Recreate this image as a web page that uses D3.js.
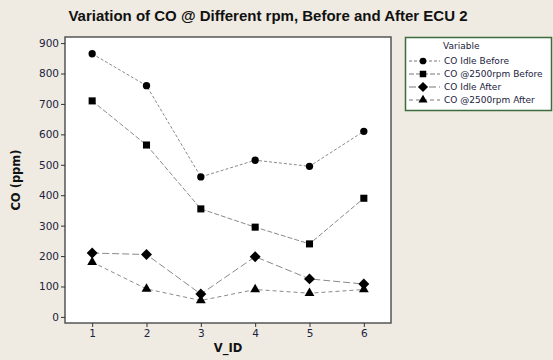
<!DOCTYPE html>
<html>
<head>
<meta charset="utf-8">
<script src="https://cdn.jsdelivr.net/npm/d3@7"></script>
<style>
  body { margin: 0; background: #efebe2; }
  svg { display: block; }
</style>
</head>
<body>
<div id="chart"></div>
<script>
const vIds = [1, 2, 3, 4, 5, 6]
const idleBefore = [865, 760, 460, 515, 495, 610]
const rpmBefore = [710, 565, 355, 295, 240, 390]
const idleAfter = [210, 205, 75, 198, 125, 108]
const rpmAfter = [180, 92, 54, 90, 78, 90]
const yTicks = [0, 100, 200, 300, 400, 500, 600, 700, 800, 900]

// rotated square for the diamond marker (d3's own diamond is too narrow)
const symbolDiamondSq = {
  draw(ctx, size) {
    const r = Math.sqrt(size / 2)
    ctx.moveTo(0, -r); ctx.lineTo(r, 0); ctx.lineTo(0, r); ctx.lineTo(-r, 0); ctx.closePath()
  }
}

const series = [
  { name: 'CO Idle Before', values: idleBefore, symbol: d3.symbolCircle, size: 42, dash: '3,2' },
  { name: 'CO @2500rpm Before', values: rpmBefore, symbol: d3.symbolSquare, size: 50, dash: '5,2' },
  { name: 'CO Idle After', values: idleAfter, symbol: symbolDiamondSq, size: 60, dash: '7,3' },
  { name: 'CO @2500rpm After', values: rpmAfter, symbol: d3.symbolTriangle, size: 42, dash: '4,3' }
]

const W = 553, H = 360
const plot = { left: 65, right: 391, top: 37, bottom: 323 }
const textColor = '#1a2340'
const font = 'Tahoma, "DejaVu Sans", sans-serif'

const svg = d3.select('#chart').append('svg')
  .attr('width', W).attr('height', H)
  .style('font-family', font)

svg.append('rect').attr('width', W).attr('height', H).attr('fill', '#efebe2')

const x = d3.scaleLinear().domain([0.5, 6.5]).range([plot.left, plot.right])
const y = d3.scaleLinear().domain([-20, 920]).range([plot.bottom, plot.top])

// plot area
svg.append('rect')
  .attr('x', plot.left).attr('y', plot.top)
  .attr('width', plot.right - plot.left).attr('height', plot.bottom - plot.top)
  .attr('fill', '#ffffff').attr('stroke', '#555555').attr('stroke-width', 1.5)

// title
svg.append('text')
  .attr('x', 268).attr('y', 21)
  .attr('text-anchor', 'middle')
  .attr('font-weight', 'bold').attr('font-size', 15)
  .style('font-family', '"Liberation Sans", Arial, sans-serif')
  .attr('fill', '#111111')
  .text('Variation of CO @ Different rpm, Before and After ECU 2')

// axes
const yAxis = svg.append('g')
  .attr('transform', 'translate(' + plot.left + ',0)')
  .call(d3.axisLeft(y).tickValues(yTicks).tickSize(4).tickPadding(2))
const xAxis = svg.append('g')
  .attr('transform', 'translate(0,' + plot.bottom + ')')
  .call(d3.axisBottom(x).tickValues(vIds).tickFormat(d3.format('d')).tickSize(4).tickPadding(3))

;[xAxis, yAxis].forEach(g => {
  g.select('.domain').remove()
  g.selectAll('line').attr('stroke', '#333333')
  g.selectAll('text').attr('fill', textColor).attr('font-size', 10.5).style('font-family', font)
})

svg.append('text')
  .attr('transform', 'translate(20,' + ((plot.top + plot.bottom) / 2) + ') rotate(-90)')
  .attr('text-anchor', 'middle')
  .attr('font-weight', 'bold').attr('font-size', 11.5).attr('fill', '#111111')
  .text('CO (ppm)')

svg.append('text')
  .attr('x', (plot.left + plot.right) / 2).attr('y', 352)
  .attr('text-anchor', 'middle')
  .attr('font-weight', 'bold').attr('font-size', 11.5).attr('fill', '#111111')
  .text('V_ID')

// lines + markers
const line = d3.line().x((d, i) => x(vIds[i])).y(d => y(d))

series.forEach(s => {
  svg.append('path')
    .attr('d', line(s.values))
    .attr('fill', 'none')
    .attr('stroke', '#8a8a8a').attr('stroke-width', 1)
    .attr('stroke-dasharray', s.dash)

  svg.selectAll(null)
    .data(s.values)
    .enter()
    .append('path')
    .attr('d', d3.symbol().type(s.symbol).size(s.size))
    .attr('transform', (d, i) => 'translate(' + x(vIds[i]) + ',' + y(d) + ')')
    .attr('fill', '#000000')
})

// legend
const legend = svg.append('g')
legend.append('rect')
  .attr('x', 405.5).attr('y', 37.5).attr('width', 146).attr('height', 73)
  .attr('fill', '#ffffff').attr('stroke', '#3d6b3d').attr('stroke-width', 1.5)

legend.append('text')
  .attr('x', 443).attr('y', 49)
  .attr('font-size', 9).attr('fill', textColor)
  .text('Variable')

series.forEach((s, i) => {
  const ly = 61 + i * 13
  legend.append('line')
    .attr('x1', 409).attr('x2', 440).attr('y1', ly).attr('y2', ly)
    .attr('stroke', '#777777').attr('stroke-width', 1)
    .attr('stroke-dasharray', s.dash)
  legend.append('path')
    .attr('d', d3.symbol().type(s.symbol).size(s.size * 0.85))
    .attr('transform', 'translate(423,' + ly + ')')
    .attr('fill', '#000000')
  legend.append('text')
    .attr('x', 444).attr('y', ly + 3.2)
    .attr('font-size', 9).attr('fill', textColor)
    .text(s.name)
})
</script>
</body>
</html>
